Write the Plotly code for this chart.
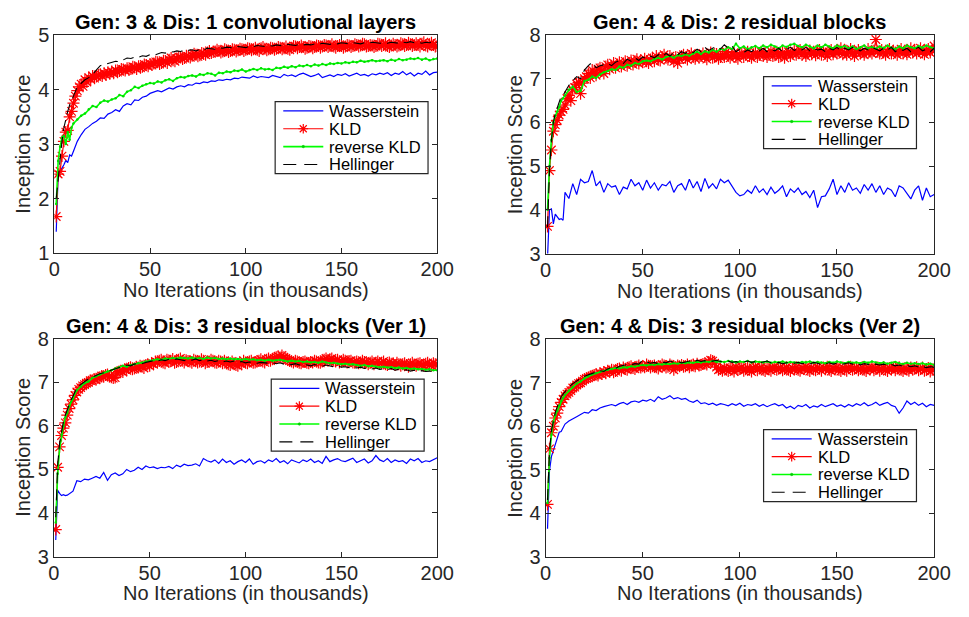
import plotly.graph_objects as go

# x positions (thousands of iterations)
ITER = list(range(1, 11)) + list(range(12, 201, 2))
ITER_K = list(range(1, 201))          # KLD curve is recorded every 1k

NAMES = ["Wasserstein", "KLD", "reverse KLD", "Hellinger"]
TITLES = ["Gen: 3 & Dis: 1 convolutional layers",
          "Gen: 4 & Dis: 2 residual blocks",
          "Gen: 4 & Dis: 3 residual blocks (Ver 1)",
          "Gen: 4 & Dis: 3 residual blocks (Ver 2)"]
XLABEL = "No Iterations (in thousands)"
YLABEL = "Inception Score"

# ---------------- Panel 1 ----------------
W1 = [1.39, 2.45, 2.50, 2.55, 2.62, 2.70, 2.66, 2.80, 2.78, 2.87,
      3.05, 3.17, 3.27, 3.32, 3.38, 3.42, 3.48, 3.47, 3.55, 3.58,
      3.63, 3.60, 3.70, 3.74, 3.72, 3.81, 3.80, 3.86, 3.88, 3.93,
      3.95, 3.98, 3.96, 4.00, 4.03, 4.01, 4.05, 4.07, 4.05, 4.09,
      4.08, 4.12, 4.11, 4.14, 4.13, 4.16, 4.15, 4.18, 4.17, 4.19,
      4.18, 4.21, 4.20, 4.23, 4.22, 4.21, 4.25, 4.22, 4.24, 4.23,
      4.22, 4.26, 4.24, 4.22, 4.28, 4.25, 4.27, 4.24, 4.28, 4.30,
      4.27, 4.24, 4.26, 4.29, 4.22, 4.25, 4.27, 4.24, 4.28, 4.26,
      4.29, 4.25, 4.27, 4.30, 4.26, 4.28, 4.25, 4.29, 4.27, 4.30,
      4.28, 4.31, 4.26, 4.30, 4.28, 4.33, 4.27, 4.31, 4.25, 4.30,
      4.28, 4.34, 4.27, 4.31, 4.32]
K1 = [1.67, 2.45, 2.50, 2.78, 3.05, 3.22, 3.25, 3.50, 3.60, 3.75,
      3.88, 3.98, 4.05, 4.10, 4.06, 4.18, 4.14, 4.22, 4.19, 4.25,
      4.21, 4.24, 4.27, 4.28, 4.25, 4.30, 4.27, 4.32, 4.29, 4.33,
      4.30, 4.35, 4.32, 4.34, 4.38, 4.37, 4.35, 4.39, 4.36, 4.38,
      4.42, 4.41, 4.38, 4.43, 4.40, 4.42, 4.46, 4.45, 4.43, 4.47,
      4.45, 4.48, 4.51, 4.50, 4.47, 4.49, 4.53, 4.52, 4.49, 4.55,
      4.58, 4.54, 4.52, 4.57, 4.60, 4.59, 4.56, 4.58, 4.62, 4.61,
      4.59, 4.62, 4.66, 4.64, 4.61, 4.63, 4.67, 4.66, 4.64, 4.68,
      4.71, 4.67, 4.69, 4.70, 4.73, 4.71, 4.68, 4.70, 4.74, 4.72,
      4.69, 4.71, 4.74, 4.73, 4.70, 4.72, 4.75, 4.74, 4.71, 4.73,
      4.76, 4.75, 4.72, 4.74, 4.77, 4.73, 4.71, 4.76, 4.78, 4.75,
      4.72, 4.74, 4.77, 4.76, 4.73, 4.75, 4.78, 4.77, 4.74, 4.76,
      4.79, 4.75, 4.73, 4.77, 4.80, 4.79, 4.76, 4.78, 4.81, 4.78,
      4.75, 4.77, 4.80, 4.79, 4.76, 4.78, 4.81, 4.80, 4.77, 4.79,
      4.82, 4.81, 4.78, 4.80, 4.83, 4.79, 4.77, 4.80, 4.82, 4.80,
      4.77, 4.79, 4.82, 4.81, 4.78, 4.80, 4.83, 4.82, 4.79, 4.81,
      4.84, 4.83, 4.79, 4.80, 4.82, 4.81, 4.78, 4.80, 4.84, 4.83,
      4.80, 4.82, 4.85, 4.80, 4.78, 4.81, 4.84, 4.82, 4.79, 4.81,
      4.85, 4.83, 4.80, 4.82, 4.86, 4.83, 4.80, 4.82, 4.85, 4.82,
      4.79, 4.84, 4.87, 4.81, 4.79, 4.83, 4.86, 4.82, 4.79, 4.80]
R1 = [1.90, 2.69, 2.95, 3.12, 3.15, 3.00, 3.22, 3.08, 3.30, 3.38,
      3.45, 3.52, 3.56, 3.64, 3.70, 3.68, 3.76, 3.80, 3.78, 3.82,
      3.84, 3.90, 3.88, 3.96, 3.99, 4.05, 4.03, 4.07, 4.10, 4.12,
      4.11, 4.15, 4.13, 4.17, 4.19, 4.16, 4.21, 4.23, 4.22, 4.25,
      4.26, 4.24, 4.28, 4.27, 4.30, 4.29, 4.26, 4.31, 4.30, 4.33,
      4.32, 4.35, 4.34, 4.37, 4.33, 4.36, 4.38, 4.36, 4.39, 4.37,
      4.38, 4.36, 4.40, 4.39, 4.42, 4.40, 4.43, 4.41, 4.44, 4.43,
      4.45, 4.43, 4.46, 4.44, 4.47, 4.45, 4.48, 4.47, 4.49, 4.48,
      4.50, 4.49, 4.51, 4.50, 4.53, 4.51, 4.52, 4.54, 4.52, 4.53,
      4.54, 4.52, 4.55, 4.53, 4.56, 4.54, 4.55, 4.57, 4.56, 4.58,
      4.55, 4.57, 4.54, 4.56, 4.57]
H1 = [2.00, 2.40, 2.75, 3.05, 3.30, 3.48, 3.60, 3.72, 3.82, 3.88,
      4.05, 4.12, 4.18, 4.22, 4.28, 4.36, 4.44, 4.46, 4.48, 4.50,
      4.52, 4.51, 4.55, 4.58, 4.57, 4.60, 4.59, 4.62, 4.61, 4.64,
      4.63, 4.66, 4.68, 4.67, 4.70, 4.69, 4.71, 4.70, 4.73, 4.72,
      4.73, 4.71, 4.74, 4.73, 4.76, 4.75, 4.74, 4.77, 4.76, 4.78,
      4.77, 4.76, 4.79, 4.78, 4.77, 4.80, 4.79, 4.81, 4.80, 4.79,
      4.81, 4.80, 4.82, 4.81, 4.80, 4.83, 4.82, 4.81, 4.83, 4.82,
      4.83, 4.82, 4.84, 4.83, 4.85, 4.84, 4.83, 4.85, 4.84, 4.86,
      4.85, 4.84, 4.86, 4.85, 4.84, 4.86, 4.85, 4.87, 4.86, 4.85,
      4.86, 4.85, 4.87, 4.86, 4.85, 4.87, 4.86, 4.88, 4.86, 4.87,
      4.85, 4.87, 4.86, 4.88, 4.86]

# ---------------- Panel 2 ----------------
W2 = [2.90, 4.00, 4.02, 3.68, 3.90, 3.85, 3.78, 3.80, 3.76, 4.40,
      4.26, 4.60, 4.35, 4.70, 4.62, 4.65, 4.90, 4.55, 4.65, 4.40,
      4.60, 4.52, 4.55, 4.35, 4.52, 4.48, 4.70, 4.55, 4.62, 4.45,
      4.68, 4.50, 4.62, 4.45, 4.58, 4.55, 4.65, 4.40, 4.55, 4.60,
      4.45, 4.70, 4.50, 4.65, 4.42, 4.72, 4.50, 4.60, 4.48, 4.70,
      4.62, 4.68, 4.55, 4.40, 4.32, 4.35, 4.45, 4.38, 4.55, 4.40,
      4.48, 4.35, 4.52, 4.38, 4.45, 4.55, 4.30, 4.48, 4.40, 4.50,
      4.35, 4.42, 4.28, 4.45, 4.05, 4.30, 4.32, 4.48, 4.70, 4.35,
      4.55, 4.40, 4.62, 4.45, 4.50, 4.38, 4.58, 4.45, 4.60, 4.40,
      4.55, 4.35, 4.50, 4.45, 4.30, 4.55, 4.50, 4.38, 4.25, 4.45,
      4.55, 4.22, 4.50, 4.30, 4.35]
K2 = [3.62, 4.90, 5.37, 5.80, 5.95, 6.05, 6.17, 6.25, 6.30, 6.40,
      6.55, 6.62, 6.50, 6.75, 6.80, 6.88, 6.92, 6.66, 6.90, 7.00,
      7.05, 7.12, 7.02, 7.20, 7.15, 7.08, 7.22, 7.25, 7.18, 7.12,
      7.28, 7.32, 7.22, 7.30, 7.36, 7.25, 7.32, 7.38, 7.28, 7.35,
      7.40, 7.30, 7.36, 7.42, 7.33, 7.40, 7.45, 7.35, 7.42, 7.38,
      7.46, 7.40, 7.36, 7.44, 7.48, 7.40, 7.52, 7.45, 7.42, 7.50,
      7.55, 7.48, 7.44, 7.52, 7.46, 7.40, 7.50, 7.36, 7.45, 7.52,
      7.55, 7.48, 7.44, 7.52, 7.58, 7.50, 7.46, 7.54, 7.48, 7.52,
      7.58, 7.50, 7.45, 7.55, 7.60, 7.48, 7.52, 7.57, 7.46, 7.50,
      7.56, 7.50, 7.62, 7.52, 7.48, 7.55, 7.60, 7.50, 7.46, 7.55,
      7.58, 7.50, 7.55, 7.62, 7.52, 7.48, 7.56, 7.60, 7.50, 7.55,
      7.62, 7.52, 7.58, 7.50, 7.55, 7.64, 7.52, 7.57, 7.62, 7.50,
      7.55, 7.60, 7.48, 7.56, 7.62, 7.52, 7.58, 7.64, 7.55, 7.60,
      7.66, 7.55, 7.60, 7.52, 7.58, 7.65, 7.56, 7.62, 7.54, 7.60,
      7.66, 7.55, 7.62, 7.58, 7.52, 7.60, 7.66, 7.56, 7.62, 7.58,
      7.64, 7.70, 7.56, 7.60, 7.55, 7.62, 7.68, 7.58, 7.52, 7.60,
      7.66, 7.58, 7.62, 7.55, 7.60, 7.68, 7.62, 7.58, 7.64, 7.90,
      7.62, 7.58, 7.66, 7.60, 7.55, 7.62, 7.68, 7.58, 7.64, 7.60,
      7.55, 7.62, 7.68, 7.58, 7.64, 7.56, 7.62, 7.70, 7.60, 7.65,
      7.58, 7.64, 7.70, 7.60, 7.56, 7.62, 7.68, 7.60, 7.66, 7.75]
R2 = [4.00, 5.00, 5.60, 6.00, 6.15, 6.25, 6.35, 6.50, 6.55, 6.62,
      6.75, 6.82, 6.70, 6.72, 6.95, 6.98, 7.05, 7.02, 7.10, 7.15,
      7.18, 7.22, 7.20, 7.28, 7.25, 7.32, 7.30, 7.36, 7.34, 7.40,
      7.42, 7.40, 7.45, 7.48, 7.44, 7.50, 7.52, 7.48, 7.54, 7.52,
      7.56, 7.53, 7.58, 7.62, 7.57, 7.63, 7.60, 7.66, 7.62, 7.68,
      7.66, 7.72, 7.68, 7.80, 7.70, 7.74, 7.68, 7.72, 7.75, 7.70,
      7.76, 7.72, 7.78, 7.74, 7.70, 7.76, 7.73, 7.78, 7.80, 7.75,
      7.72, 7.78, 7.74, 7.70, 7.76, 7.72, 7.78, 7.74, 7.70, 7.76,
      7.72, 7.75, 7.70, 7.74, 7.68, 7.72, 7.76, 7.70, 7.73, 7.69,
      7.74, 7.70, 7.76, 7.71, 7.68, 7.74, 7.70, 7.76, 7.72, 7.70,
      7.75, 7.71, 7.76, 7.72, 7.70]
H2 = [3.60, 4.90, 5.60, 6.00, 6.20, 6.35, 6.45, 6.60, 6.62, 6.70,
      6.85, 6.95, 7.05, 7.00, 7.20, 7.30, 7.38, 7.25, 7.30, 7.32,
      7.35, 7.30, 7.38, 7.42, 7.35, 7.45, 7.40, 7.48, 7.42, 7.50,
      7.46, 7.52, 7.48, 7.55, 7.50, 7.58, 7.52, 7.60, 7.55, 7.62,
      7.58, 7.64, 7.60, 7.68, 7.62, 7.72, 7.65, 7.70, 7.74, 7.68,
      7.78, 7.70, 7.75, 7.62, 7.68, 7.60, 7.66, 7.62, 7.68, 7.64,
      7.70, 7.62, 7.68, 7.64, 7.70, 7.62, 7.68, 7.72, 7.65, 7.70,
      7.66, 7.72, 7.64, 7.70, 7.66, 7.68, 7.62, 7.70, 7.66, 7.72,
      7.64, 7.70, 7.66, 7.72, 7.68, 7.64, 7.70, 7.66, 7.72, 7.68,
      7.64, 7.70, 7.66, 7.72, 7.62, 7.68, 7.65, 7.70, 7.62, 7.68,
      7.72, 7.64, 7.68, 7.62, 7.70]

# ---------------- Panel 3 ----------------
W3 = [3.38, 4.52, 4.45, 4.40, 4.42, 4.40, 4.41, 4.44, 4.45, 4.50,
      4.74, 4.72, 4.78, 4.76, 4.80, 4.84, 4.80, 4.93, 4.75, 4.88,
      4.92, 4.86, 4.90, 5.00, 4.95, 4.98, 5.05, 5.00, 5.08, 5.04,
      5.06, 5.02, 5.05, 5.04, 5.07, 5.02, 5.10, 5.06, 5.12, 5.09,
      5.10, 5.13, 5.08, 5.25, 5.20, 5.17, 5.22, 5.14, 5.24, 5.16,
      5.20, 5.12, 5.18, 5.22, 5.16, 5.24, 5.12, 5.18, 5.20, 5.15,
      5.22, 5.18, 5.25, 5.16, 5.20, 5.13, 5.22, 5.18, 5.15, 5.22,
      5.18, 5.24, 5.16, 5.20, 5.14, 5.30, 5.18, 5.22, 5.25, 5.20,
      5.18, 5.22, 5.26, 5.16, 5.20, 5.24, 5.15, 5.20, 5.32, 5.22,
      5.18, 5.25, 5.16, 5.22, 5.18, 5.20, 5.14, 5.24, 5.20, 5.25,
      5.16, 5.20, 5.18, 5.22, 5.27]
K3 = [3.62, 5.05, 5.52, 5.78, 5.95, 6.07, 6.25, 6.40, 6.50, 6.60,
      6.70, 6.78, 6.84, 6.88, 6.92, 6.95, 6.98, 7.00, 7.04, 7.05,
      7.08, 7.06, 7.10, 7.12, 7.15, 7.13, 7.17, 7.18, 7.14, 7.12,
      7.10, 7.11, 7.22, 7.25, 7.27, 7.24, 7.30, 7.28, 7.33, 7.35,
      7.30, 7.32, 7.36, 7.34, 7.38, 7.36, 7.33, 7.40, 7.42, 7.38,
      7.44, 7.42, 7.48, 7.46, 7.50, 7.52, 7.46, 7.44, 7.52, 7.48,
      7.50, 7.54, 7.45, 7.47, 7.52, 7.55, 7.50, 7.46, 7.51, 7.49,
      7.48, 7.45, 7.52, 7.50, 7.46, 7.48, 7.53, 7.50, 7.44, 7.47,
      7.48, 7.52, 7.50, 7.46, 7.45, 7.50, 7.48, 7.44, 7.50, 7.46,
      7.42, 7.40, 7.48, 7.44, 7.40, 7.38, 7.45, 7.42, 7.50, 7.46,
      7.44, 7.48, 7.50, 7.45, 7.46, 7.48, 7.50, 7.53, 7.48, 7.46,
      7.52, 7.55, 7.50, 7.53, 7.55, 7.58, 7.60, 7.57, 7.62, 7.58,
      7.55, 7.52, 7.50, 7.48, 7.46, 7.50, 7.48, 7.45, 7.44, 7.47,
      7.48, 7.45, 7.44, 7.47, 7.46, 7.50, 7.48, 7.46, 7.45, 7.48,
      7.52, 7.55, 7.50, 7.53, 7.55, 7.50, 7.48, 7.52, 7.46, 7.48,
      7.52, 7.50, 7.46, 7.49, 7.50, 7.46, 7.45, 7.48, 7.44, 7.46,
      7.50, 7.47, 7.46, 7.42, 7.45, 7.48, 7.42, 7.45, 7.48, 7.44,
      7.45, 7.48, 7.42, 7.40, 7.46, 7.43, 7.44, 7.40, 7.45, 7.42,
      7.38, 7.42, 7.44, 7.40, 7.36, 7.42, 7.45, 7.41, 7.38, 7.43,
      7.44, 7.40, 7.38, 7.43, 7.45, 7.41, 7.39, 7.44, 7.42, 7.42]
R3 = [3.78, 4.90, 5.48, 5.80, 6.00, 6.20, 6.30, 6.45, 6.55, 6.62,
      6.82, 6.90, 6.98, 7.02, 7.10, 7.14, 7.18, 7.22, 7.25, 7.28,
      7.32, 7.35, 7.38, 7.36, 7.40, 7.42, 7.44, 7.45, 7.48, 7.50,
      7.51, 7.53, 7.52, 7.55, 7.54, 7.56, 7.55, 7.57, 7.56, 7.55,
      7.57, 7.55, 7.56, 7.54, 7.57, 7.55, 7.56, 7.54, 7.55, 7.53,
      7.55, 7.53, 7.54, 7.52, 7.54, 7.52, 7.53, 7.51, 7.52, 7.50,
      7.52, 7.50, 7.51, 7.52, 7.50, 7.48, 7.50, 7.48, 7.49, 7.47,
      7.48, 7.46, 7.47, 7.45, 7.48, 7.46, 7.44, 7.45, 7.43, 7.42,
      7.43, 7.41, 7.42, 7.40, 7.38, 7.40, 7.37, 7.38, 7.36, 7.35,
      7.36, 7.34, 7.35, 7.33, 7.34, 7.32, 7.33, 7.31, 7.32, 7.30,
      7.31, 7.29, 7.30, 7.28, 7.28]
H3 = [3.90, 5.10, 5.60, 5.90, 6.10, 6.25, 6.38, 6.50, 6.60, 6.68,
      6.88, 6.95, 7.02, 7.08, 7.12, 7.16, 7.20, 7.22, 7.25, 7.28,
      7.30, 7.34, 7.36, 7.40, 7.38, 7.42, 7.44, 7.43, 7.46, 7.48,
      7.50, 7.49, 7.52, 7.50, 7.53, 7.51, 7.54, 7.52, 7.50, 7.53,
      7.51, 7.54, 7.50, 7.52, 7.49, 7.51, 7.48, 7.50, 7.47, 7.49,
      7.47, 7.49, 7.46, 7.48, 7.45, 7.47, 7.46, 7.44, 7.46, 7.45,
      7.44, 7.46, 7.43, 7.45, 7.42, 7.44, 7.41, 7.43, 7.40, 7.42,
      7.40, 7.38, 7.41, 7.39, 7.37, 7.40, 7.38, 7.36, 7.38, 7.35,
      7.36, 7.34, 7.36, 7.33, 7.35, 7.32, 7.34, 7.31, 7.33, 7.30,
      7.31, 7.29, 7.32, 7.28, 7.30, 7.27, 7.29, 7.26, 7.28, 7.25,
      7.27, 7.25, 7.26, 7.24, 7.26]

# ---------------- Panel 4 ----------------
W4 = [3.64, 4.97, 5.30, 5.45, 5.60, 5.75, 5.86, 5.88, 5.95, 6.05,
      6.12, 6.18, 6.22, 6.27, 6.32, 6.30, 6.38, 6.36, 6.42, 6.45,
      6.48, 6.50, 6.47, 6.52, 6.55, 6.50, 6.56, 6.58, 6.55, 6.60,
      6.58, 6.62, 6.57, 6.68, 6.62, 6.65, 6.70, 6.63, 6.66, 6.62,
      6.64, 6.58, 6.55, 6.60, 6.52, 6.54, 6.50, 6.53, 6.48, 6.52,
      6.50, 6.47, 6.52, 6.48, 6.53, 6.46, 6.50, 6.48, 6.52, 6.46,
      6.50, 6.45, 6.49, 6.52, 6.47, 6.50, 6.42, 6.46, 6.40, 6.48,
      6.45, 6.50, 6.42, 6.47, 6.44, 6.50, 6.45, 6.48, 6.52, 6.46,
      6.49, 6.44, 6.50, 6.46, 6.52, 6.48, 6.54, 6.47, 6.50, 6.55,
      6.48, 6.52, 6.55, 6.48, 6.45, 6.30, 6.42, 6.58, 6.50, 6.55,
      6.48, 6.53, 6.45, 6.50, 6.48]
K4 = [4.20, 5.48, 5.85, 6.00, 6.19, 6.30, 6.45, 6.55, 6.62, 6.70,
      6.74, 6.78, 6.82, 6.88, 6.90, 6.95, 6.98, 7.00, 7.04, 7.08,
      7.10, 7.12, 7.14, 7.15, 7.18, 7.20, 7.17, 7.22, 7.20, 7.25,
      7.22, 7.28, 7.26, 7.30, 7.24, 7.27, 7.32, 7.33, 7.28, 7.35,
      7.32, 7.30, 7.36, 7.38, 7.34, 7.32, 7.37, 7.40, 7.35, 7.38,
      7.36, 7.42, 7.39, 7.35, 7.38, 7.40, 7.36, 7.33, 7.38, 7.42,
      7.40, 7.35, 7.37, 7.42, 7.39, 7.30, 7.36, 7.40, 7.38, 7.41,
      7.37, 7.38, 7.42, 7.36, 7.40, 7.42, 7.38, 7.44, 7.40, 7.41,
      7.43, 7.45, 7.42, 7.48, 7.52, 7.50, 7.45, 7.36, 7.30, 7.32,
      7.28, 7.35, 7.30, 7.27, 7.34, 7.32, 7.26, 7.36, 7.30, 7.33,
      7.36, 7.28, 7.31, 7.35, 7.30, 7.26, 7.34, 7.37, 7.29, 7.33,
      7.36, 7.30, 7.27, 7.35, 7.32, 7.28, 7.34, 7.37, 7.30, 7.33,
      7.35, 7.29, 7.32, 7.36, 7.30, 7.27, 7.34, 7.31, 7.36, 7.30,
      7.28, 7.34, 7.32, 7.37, 7.30, 7.27, 7.35, 7.32, 7.29, 7.36,
      7.33, 7.28, 7.35, 7.31, 7.37, 7.30, 7.27, 7.34, 7.32, 7.36,
      7.30, 7.27, 7.35, 7.32, 7.28, 7.34, 7.37, 7.30, 7.33, 7.35,
      7.29, 7.32, 7.36, 7.30, 7.27, 7.34, 7.31, 7.36, 7.29, 7.33,
      7.35, 7.28, 7.32, 7.36, 7.30, 7.27, 7.34, 7.31, 7.35, 7.29,
      7.33, 7.36, 7.30, 7.27, 7.34, 7.31, 7.28, 7.35, 7.30, 7.33,
      7.36, 7.29, 7.32, 7.35, 7.28, 7.31, 7.34, 7.26, 7.30, 7.32]
R4 = [4.23, 5.27, 5.80, 6.10, 6.25, 6.35, 6.48, 6.58, 6.65, 6.72,
      6.82, 6.90, 6.98, 7.03, 7.10, 7.15, 7.19, 7.22, 7.25, 7.27,
      7.30, 7.32, 7.34, 7.33, 7.36, 7.35, 7.38, 7.37, 7.40, 7.41,
      7.40, 7.42, 7.41, 7.43, 7.42, 7.44, 7.43, 7.45, 7.44, 7.46,
      7.45, 7.47, 7.46, 7.48, 7.47, 7.49, 7.48, 7.50, 7.48, 7.49,
      7.48, 7.50, 7.49, 7.47, 7.49, 7.48, 7.50, 7.47, 7.49, 7.48,
      7.47, 7.49, 7.46, 7.48, 7.47, 7.49, 7.46, 7.48, 7.47, 7.46,
      7.48, 7.47, 7.49, 7.46, 7.48, 7.47, 7.45, 7.48, 7.46, 7.49,
      7.47, 7.45, 7.48, 7.46, 7.47, 7.45, 7.48, 7.46, 7.49, 7.47,
      7.45, 7.47, 7.44, 7.46, 7.48, 7.45, 7.43, 7.46, 7.44, 7.45,
      7.43, 7.45, 7.42, 7.44, 7.41]
H4 = [4.30, 5.40, 5.90, 6.15, 6.32, 6.45, 6.58, 6.68, 6.74, 6.80,
      6.90, 6.98, 7.05, 7.10, 7.15, 7.18, 7.22, 7.25, 7.28, 7.26,
      7.32, 7.35, 7.33, 7.38, 7.40, 7.42, 7.41, 7.44, 7.43, 7.52,
      7.48, 7.45, 7.47, 7.44, 7.48, 7.46, 7.50, 7.47, 7.49, 7.46,
      7.48, 7.50, 7.47, 7.52, 7.49, 7.51, 7.48, 7.50, 7.52, 7.49,
      7.48, 7.50, 7.47, 7.49, 7.46, 7.48, 7.50, 7.47, 7.49, 7.46,
      7.48, 7.50, 7.46, 7.45, 7.47, 7.44, 7.46, 7.48, 7.45, 7.47,
      7.44, 7.46, 7.43, 7.47, 7.45, 7.42, 7.44, 7.46, 7.43, 7.45,
      7.42, 7.44, 7.46, 7.43, 7.45, 7.41, 7.44, 7.42, 7.40, 7.43,
      7.41, 7.43, 7.40, 7.42, 7.39, 7.41, 7.38, 7.40, 7.37, 7.39,
      7.36, 7.38, 7.35, 7.37, 7.36]

PANELS = [
    (TITLES[0], [W1, K1, R1, H1], [1, 5]),
    (TITLES[1], [W2, K2, R2, H2], [3, 8]),
    (TITLES[2], [W3, K3, R3, H3], [3, 8]),
    (TITLES[3], [W4, K4, R4, H4], [3, 8]),
]
XS = [ITER, ITER_K, ITER, ITER]
for _, ser, _r in PANELS:
    for s, xs in zip(ser, XS):
        assert len(s) == len(xs), len(s)

# ---------------- layout geometry (pixels) ----------------
W, H = 969, 617
FONT = "Liberation Sans, Arial, Helvetica, sans-serif"
AX = "#262626"
FS = 20
LFS = 16.5          # legend text size
ROW = 18.5          # legend row pitch
# (left, right, top, bottom) of each axes box in px
BOX = [(49.5, 441.7, 25.0, 251.0),
       (552.7, 950.7, 25.0, 251.5),
       (49.0, 441.7, 340.0, 565.7),
       (552.7, 950.7, 340.5, 565.7)]
XT_Y = [289.5, 290.0, 603.5, 603.5]      # x-axis title centre
YT_DX = 31.5                              # y-axis title centre, left of axis
# legend boxes (left, top) in px
LEGBOX = [(275.7, 94.0), (776.0, 68.0), (271.7, 381.7), (776.0, 434.0)]
LEG_W = 156.6
LEG_PAD = 9.6
LEG_H = 2 * LEG_PAD + 3 * ROW

COLORS = ["#0000FF", "#FF0000", "#00FF00", "#000000"]
STYLE = [
    dict(mode="lines", line=dict(color=COLORS[0], width=1.2)),
    dict(mode="lines+markers", line=dict(color=COLORS[1], width=1.2),
         marker=dict(symbol="asterisk-open", size=10, color=COLORS[1],
                     line=dict(color=COLORS[1], width=1.2))),
    dict(mode="lines+markers", line=dict(color=COLORS[2], width=1.6),
         marker=dict(symbol="circle", size=2.5, color="#00DD00")),
    dict(mode="lines", line=dict(color=COLORS[3], width=1.1, dash="11px,6px")),
]


def px(x):
    return x / W


def py(y):
    return 1 - y / H


fig = go.Figure()
layout = dict(width=W, height=H, margin=dict(l=0, r=0, t=0, b=0),
              paper_bgcolor="white", plot_bgcolor="white", showlegend=False,
              font=dict(family=FONT, color=AX, size=FS))
annotations = []
shapes = []
for i, (title, series, yr) in enumerate(PANELS):
    n = i + 1
    sfx = "" if n == 1 else str(n)
    l, r, t, b = BOX[i]
    for j, s in enumerate(series):
        fig.add_trace(go.Scatter(x=XS[j], y=s, name=NAMES[j], xaxis="x" + sfx,
                                 yaxis="y" + sfx, cliponaxis=True, **STYLE[j]))
    axcommon = dict(showline=True, linecolor=AX, linewidth=1, mirror="ticks",
                    ticks="inside", ticklen=5, tickcolor=AX, tickwidth=1,
                    showgrid=False, zeroline=False,
                    tickfont=dict(family=FONT, size=FS, color=AX))
    layout["xaxis" + sfx] = dict(domain=[px(l), px(r)], anchor="y" + sfx,
                                 range=[0, 200], tickvals=[0, 50, 100, 150, 200],
                                 ticklabelstandoff=-2, **axcommon)
    layout["yaxis" + sfx] = dict(domain=[py(b), py(t)], anchor="x" + sfx,
                                 range=yr, dtick=1, **axcommon)
    # panel title
    annotations.append(dict(text="<b>%s</b>" % title, xref="paper", yref="paper",
                            x=px((l + r) / 2), y=py(t - 13.5),
                            xanchor="center", yanchor="middle", showarrow=False,
                            font=dict(family=FONT, size=FS, color="#000000")))
    # axis titles
    annotations.append(dict(text=XLABEL, xref="paper", yref="paper",
                            x=px((l + r) / 2), y=py(XT_Y[i]),
                            xanchor="center", yanchor="middle", showarrow=False,
                            font=dict(family=FONT, size=FS, color=AX)))
    annotations.append(dict(text=YLABEL, xref="paper", yref="paper", textangle=-90,
                            x=px(l - YT_DX), y=py((t + b) / 2),
                            xanchor="center", yanchor="middle", showarrow=False,
                            font=dict(family=FONT, size=FS, color=AX)))

    # ---- legend box (drawn as layout decoration) ----
    bl, bt = LEGBOX[i]
    shapes.append(dict(type="rect", xref="paper", yref="paper",
                       x0=px(bl), x1=px(bl + LEG_W), y0=py(bt), y1=py(bt + LEG_H),
                       line=dict(color=AX, width=1.2), fillcolor="white", layer="above"))
    for k, name in enumerate(NAMES):
        ry = bt + LEG_PAD + k * ROW
        x0, x1 = bl + 8.3, bl + 49.3
        cx = (x0 + x1) / 2
        ln = STYLE[k]["line"]
        dash = "13px,8px" if k == 3 else "solid"
        shapes.append(dict(type="line", xref="paper", yref="paper",
                           x0=px(x0), x1=px(x1), y0=py(ry), y1=py(ry),
                           line=dict(color=ln["color"], width=ln["width"], dash=dash),
                           layer="above"))
        if k == 1:
            rr, dd = 5.0, 3.6
            path = ("M{a},{b} L{c},{b} M{e},{f} L{e},{g} M{h},{i} L{j},{k} M{h},{k} L{j},{i}"
                    .format(a=px(cx - rr), c=px(cx + rr), b=py(ry), e=px(cx),
                            f=py(ry - rr), g=py(ry + rr), h=px(cx - dd), j=px(cx + dd),
                            i=py(ry - dd), k=py(ry + dd)))
            shapes.append(dict(type="path", xref="paper", yref="paper", path=path,
                               line=dict(color=COLORS[1], width=1.2), layer="above"))
        if k == 2:
            shapes.append(dict(type="circle", xref="paper", yref="paper",
                               x0=px(cx - 1.3), x1=px(cx + 1.3),
                               y0=py(ry - 1.3), y1=py(ry + 1.3),
                               line=dict(color="#00CC00", width=0.5),
                               fillcolor="#00CC00", layer="above"))
        annotations.append(dict(text=name, xref="paper", yref="paper",
                                x=px(bl + 53.5), y=py(ry), xanchor="left",
                                yanchor="middle", showarrow=False,
                                font=dict(family=FONT, size=LFS, color="#000000")))

layout["annotations"] = annotations
layout["shapes"] = shapes
fig.update_layout(**layout)
fig.write_html("out.html")
